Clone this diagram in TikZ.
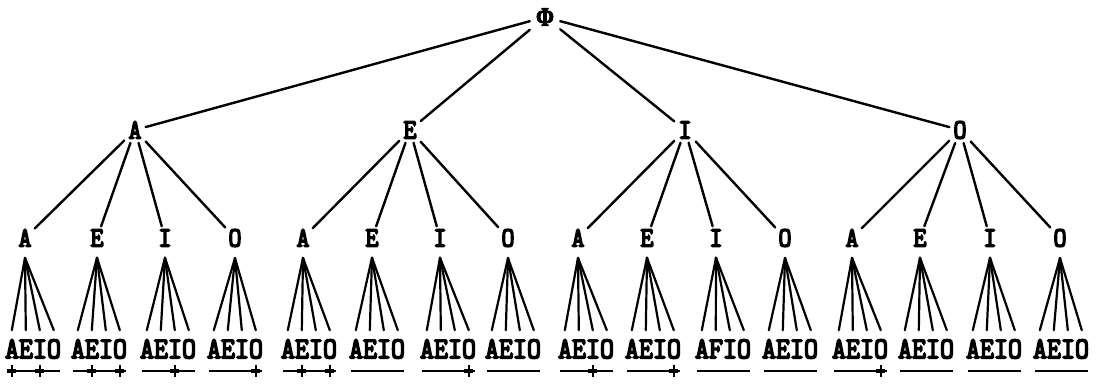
\documentclass[tikz,border=0pt]{standalone}
\usepackage{fontspec}
\usetikzlibrary{calc}
% typewriter-style letters, thickened and a little condensed
\newfontfamily\tw{lmmono10-regular.otf}[FakeBold=5, FakeStretch=0.88]
\newfontfamily\phifont{Liberation Serif}[FakeBold=3, FakeStretch=0.8]
\begin{document}
\begin{tikzpicture}[x=1pt,y=-1pt,
  toptext/.style={font=\phifont\bfseries\fontsize{27}{28}\selectfont, inner sep=6pt},
  midtext/.style={font=\tw\fontsize{28}{29}\selectfont, inner sep=4pt},
  lowtext/.style={font=\tw\fontsize{28}{29}\selectfont, inner sep=3pt},
  wordtext/.style={font=\tw\fontsize{30.3}{31}\selectfont, inner sep=0pt},
  edge/.style={line width=2.4pt, line cap=round},
  fanline/.style={line width=2.2pt, line cap=round},
  markline/.style={line width=1.6pt},
  tickv/.style={line width=2pt},
  tickh/.style={line width=3.4pt}]
\useasboundingbox (0,0) rectangle (1098,385);

% root
\node[toptext] (root) at (545,17) {Φ};

% first premise
\foreach \i/\x/\p in {1/135/A,2/410/E,3/685/I,4/960/O} {
  \node[midtext] (m\i) at (\x,130) {\p};
  \draw[edge] (root) -- (m\i);
}

% second premise, conclusions and their fans
\foreach \j/\x/\p/\wx/\pp/\lw in {
   1/25/A/33/1/AEIO, 2/97/E/99/1/AEIO, 3/165/I/168/1/AEIO, 4/235/O/235/1/AEIO,
   5/303/A/309/2/AEIO, 6/372/E/377/2/AEIO, 7/440/I/448/2/AEIO, 8/508/O/513/2/AEIO,
   9/578/A/586/3/AEIO, 10/647/E/653/3/AEIO, 11/716/I/723/3/AFIO, 12/785/O/790/3/AEIO,
   13/852/A/860/4/AEIO, 14/920/E/926/4/AEIO, 15/990/I/994/4/AEIO, 16/1060/O/1061/4/AEIO} {
  \node[lowtext] (n\j) at (\x,238) {\p};
  \draw[edge] (m\pp) -- (n\j);
  \node[wordtext] (w\j) at (\wx,349) {\lw};
  \coordinate (a\j) at ([yshift=-8pt]n\j.south);
  \foreach \k in {0,...,3} {
    \coordinate (f\j-\k) at ($(w\j.north west)+(7+14*\k,-9)$);
    \draw[fanline] (a\j) -- (f\j-\k);
  }
  \coordinate (s\j) at ($(w\j.west)+(2,22)$);
  \coordinate (e\j) at ($(w\j.east)+(-1,22)$);
  \draw[markline] (s\j) -- (e\j);
}

% crosses on the mark lines
\foreach \j/\k in {1/0,1/2,2/1,2/3,3/2,4/3,5/1,5/3,7/3,9/2,10/3,13/3} {
  \coordinate (t\j-\k) at ($(w\j.west)+(7+14*\k,22)$);
  \draw[tickv] ([yshift=6pt]t\j-\k) -- ([yshift=-6pt]t\j-\k);
  \draw[tickh] ([xshift=-4.5pt]t\j-\k) -- ([xshift=4.5pt]t\j-\k);
}
\end{tikzpicture}
\end{document}
